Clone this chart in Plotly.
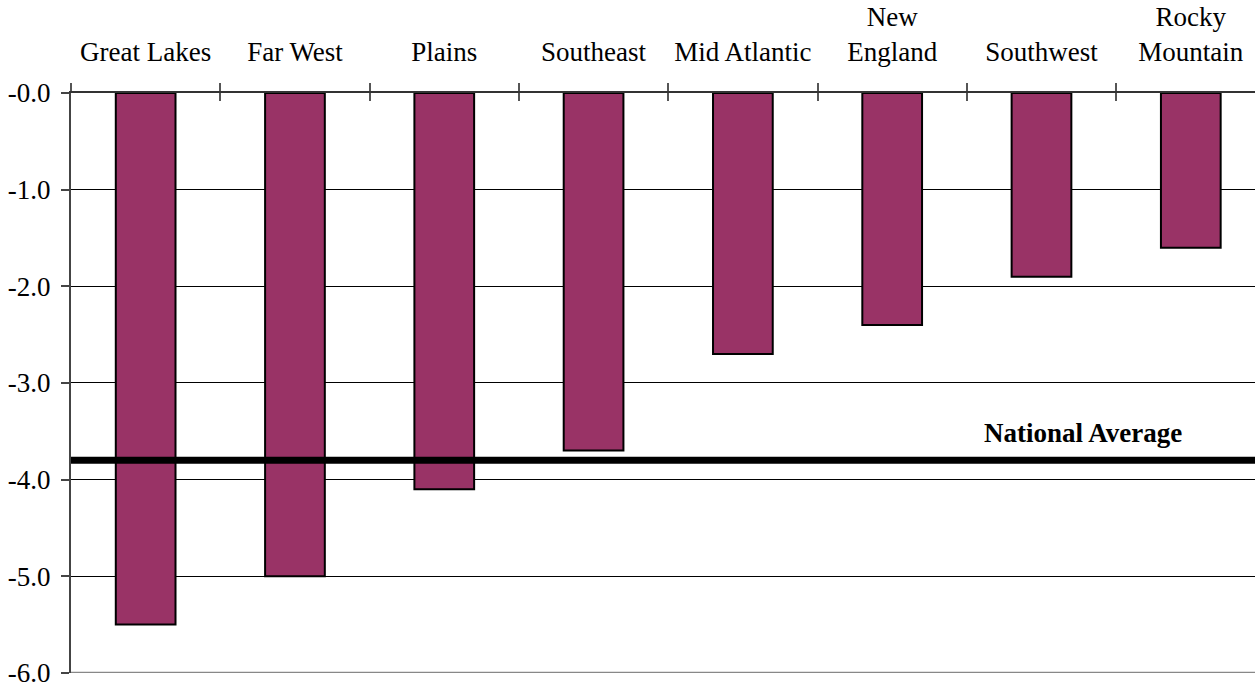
import plotly.graph_objects as go

# Regional change, by region, with the national average for reference
regions = ["Great Lakes", "Far West", "Plains", "Southeast", "Mid Atlantic",
           "New<br>England", "Southwest", "Rocky<br>Mountain"]
changes = [-5.5, -5.0, -4.1, -3.7, -2.7, -2.4, -1.9, -1.6]
national_avg = -3.8
national_label = "National Average"

y_ticks = [0, -1, -2, -3, -4, -5, -6]
y_tick_text = ["-0.0", "-1.0", "-2.0", "-3.0", "-4.0", "-5.0", "-6.0"]

FONT = "Liberation Serif, Times New Roman, serif"
FS = 27
BAR = "#993366"

fig = go.Figure()
fig.add_trace(go.Bar(
    x=regions, y=changes, width=0.4,
    marker=dict(color=BAR, line=dict(color="black", width=2)),
    showlegend=False, xaxis="x", yaxis="y",
))
# invisible trace to carry the second (inside-tick) category axis
fig.add_trace(go.Scatter(x=regions, y=[None] * len(regions), xaxis="x2", yaxis="y",
                         showlegend=False, hoverinfo="skip"))

x_range = [-0.5, 7.43]

fig.update_layout(
    width=1255, height=687,
    margin=dict(l=71, r=0, t=93, b=14),
    paper_bgcolor="white", plot_bgcolor="white",
    font=dict(family=FONT, size=FS, color="black"),
    xaxis=dict(
        type="category", side="top", range=x_range,
        showline=True, linecolor="#333333", linewidth=2,
        ticks="outside", tickson="boundaries", ticklen=8, tickcolor="#555555", tickwidth=2,
        ticklabelstandoff=19,
        showgrid=False, zeroline=False,
        tickfont=dict(family=FONT, size=FS, color="black"),
    ),
    xaxis2=dict(
        type="category", side="top", overlaying="x", range=x_range,
        ticks="inside", tickson="boundaries", ticklen=8, tickcolor="#555555", tickwidth=2,
        showticklabels=False, showgrid=False, zeroline=False, showline=False,
    ),
    yaxis=dict(
        range=[-6.001, 0], tickvals=y_ticks, ticktext=y_tick_text,
        showline=True, linecolor="#444444", linewidth=2,
        ticks="outside", ticklen=8, tickcolor="#444444", tickwidth=2,
        ticklabelstandoff=5, ticklabeloverflow="allow",
        showgrid=True, gridcolor="black", gridwidth=1, zeroline=False,
        tickfont=dict(family=FONT, size=FS, color="black"),
    ),
    shapes=[
        # grey floor line of the plot area
        dict(type="line", xref="paper", yref="y", x0=0, x1=1, y0=-6, y1=-6,
             line=dict(color="#888888", width=2.5), layer="above"),
        # national average reference line
        dict(type="line", xref="paper", yref="y", x0=0, x1=1,
             y0=national_avg, y1=national_avg,
             line=dict(color="black", width=7), layer="above"),
    ],
    annotations=[
        dict(x=6.28, y=national_avg, xref="x", yref="y", text=f"<b>{national_label}</b>",
             showarrow=False, yanchor="bottom", yshift=10,
             font=dict(family=FONT, size=FS, color="black")),
    ],
)

fig.write_html("out.html")
